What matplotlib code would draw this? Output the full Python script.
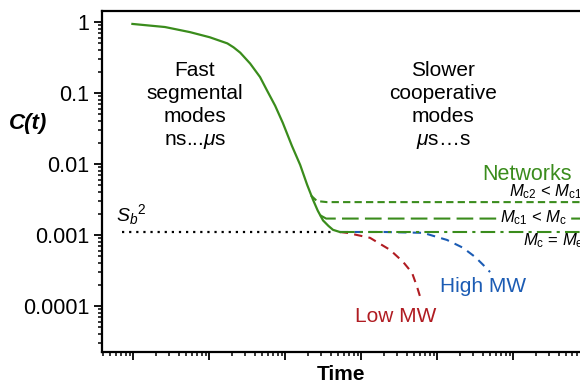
import matplotlib
matplotlib.use('Agg')
import matplotlib.pyplot as plt

plt.rcParams['font.family'] = ['Liberation Sans', 'DejaVu Sans']
plt.rcParams['mathtext.fontset'] = 'custom'
plt.rcParams['mathtext.rm'] = 'Liberation Sans'
plt.rcParams['mathtext.it'] = 'Liberation Sans:italic'
plt.rcParams['mathtext.bf'] = 'Liberation Sans:bold'

# master curve: fast segmental decay down to the S_b^2 plateau
t_fast = [0.98, 2.63, 5.62, 10.2, 17.4, 21.0, 25.7, 34.7, 46.8, 57.5, 74.1,
          93.3, 123, 158, 195, 234, 269, 316, 372, 427, 525]
c_fast = [0.94, 0.85, 0.72, 0.61, 0.50, 0.44, 0.37, 0.26, 0.168, 0.11, 0.066,
          0.038, 0.018, 0.0097, 0.0051, 0.0031, 0.0022, 0.0016, 0.00134, 0.00118, 0.0011]

# networks: plateaus for different crosslink densities
t_end = 7.6e5
t_net1 = [219, 263, 355, t_end]
c_net1 = [0.0036, 0.0030, 0.0029, 0.0029]
t_net2 = [288, 347, t_end]
c_net2 = [0.0019, 0.0017, 0.0017]
t_net3 = [525, t_end]
c_net3 = [0.0011, 0.0011]

# linear melts
t_low = [525, 655, 1312, 2410, 3573, 4690, 5460, 6150]
c_low = [0.0011, 0.00107, 0.00091, 0.000615, 0.000417, 0.000292, 0.000185, 0.000122]
t_high = [525, 2000, 6550, 13490, 21880, 31620, 40270, 49770]
c_high = [0.0011, 0.0011, 0.00107, 0.00085, 0.00066, 0.00049, 0.00038, 0.00030]

# S_b^2 level
t_sb = [0.72, 430]
c_sb = [0.0011, 0.0011]

green = '#3a8c1c'
red = '#b01c22'
blue = '#1c5cb4'

fig = plt.figure(figsize=(5.8, 3.85), dpi=100)
ax = fig.add_axes([102 / 580, 33 / 385, 1 - 102 / 580, 341 / 385])

ax.plot(t_sb, c_sb, color='black', lw=1.6, linestyle=(0, (1, 2.2)))
ax.plot(t_low, c_low, color=red, lw=1.5, linestyle=(0, (4, 3)))
ax.plot(t_high, c_high, color=blue, lw=1.5, linestyle=(0, (4, 3)))
ax.plot(t_net1, c_net1, color=green, lw=1.5, linestyle=(0, (3.5, 2)))
ax.plot(t_net2, c_net2, color=green, lw=1.5, linestyle=(0, (8, 3)))
ax.plot(t_net3, c_net3, color=green, lw=1.5, linestyle=(0, (7, 2.5, 1.5, 2.5)))
ax.plot(t_fast, c_fast, color=green, lw=1.6)

ax.set_xscale('log')
ax.set_yscale('log')
ax.set_xlim(0.39, t_end)
ax.set_ylim(2.24e-5, 1.43)

ax.set_yticks([1, 0.1, 0.01, 0.001, 0.0001])
ax.set_yticklabels(['1', '0.1', '0.01', '0.001', '0.0001'])
ax.xaxis.set_major_locator(matplotlib.ticker.LogLocator(base=10, numticks=20))
ax.xaxis.set_minor_locator(matplotlib.ticker.LogLocator(base=10, subs=range(2, 10), numticks=20))
ax.set_xticklabels([])
ax.xaxis.set_minor_formatter(matplotlib.ticker.NullFormatter())
ax.yaxis.set_minor_locator(matplotlib.ticker.LogLocator(base=10, subs=range(2, 10), numticks=20))

ax.tick_params(which='major', direction='out', length=6, width=1.3, labelsize=15.5, pad=3)
ax.tick_params(which='minor', direction='out', length=3, width=1.1)
for side in ['left', 'bottom', 'top']:
    ax.spines[side].set_linewidth(1.6)
ax.spines['right'].set_visible(False)


# pixel-based placement helper (origin top-left)
def px(x, y):
    return fig.transFigure.inverted().transform((x, 385 - y))


def label(x, y, s, **kw):
    fig.text(*px(x, y), s, va='center', **kw)


label(341, 374, 'Time', fontsize=15, fontweight='bold', ha='center')
label(28, 123, 'C(t)', fontsize=16, fontweight='bold', fontstyle='italic', ha='center')

label(195, 106, 'Fast\nsegmental\nmodes\nns...$\\mu$s',
      ha='center', fontsize=15, linespacing=1.25)
label(443, 106, 'Slower\ncooperative\nmodes\n$\\mu$s\u2026s',
      ha='center', fontsize=15, linespacing=1.25)

label(527, 174, 'Networks', color=green, fontsize=15.5, ha='center')
label(582, 192, '$M_{\\rm c2}$ < $M_{\\rm c1}$', fontsize=12, ha='right')
label(533, 218, '$M_{\\rm c1}$ < $M_{\\rm c}$', fontsize=12, ha='center',
      bbox=dict(facecolor='white', edgecolor='none', pad=1))
label(523, 241, '$M_{\\rm c}$ = $M_{\\rm e}$', fontsize=12, ha='left')
label(483, 287, 'High MW', color=blue, fontsize=15, ha='center')
label(396, 317, 'Low MW', color=red, fontsize=15, ha='center')
label(116, 215, '$S_b{}^{2}$', fontsize=14, ha='left')

fig.savefig('out.png', dpi=100)
